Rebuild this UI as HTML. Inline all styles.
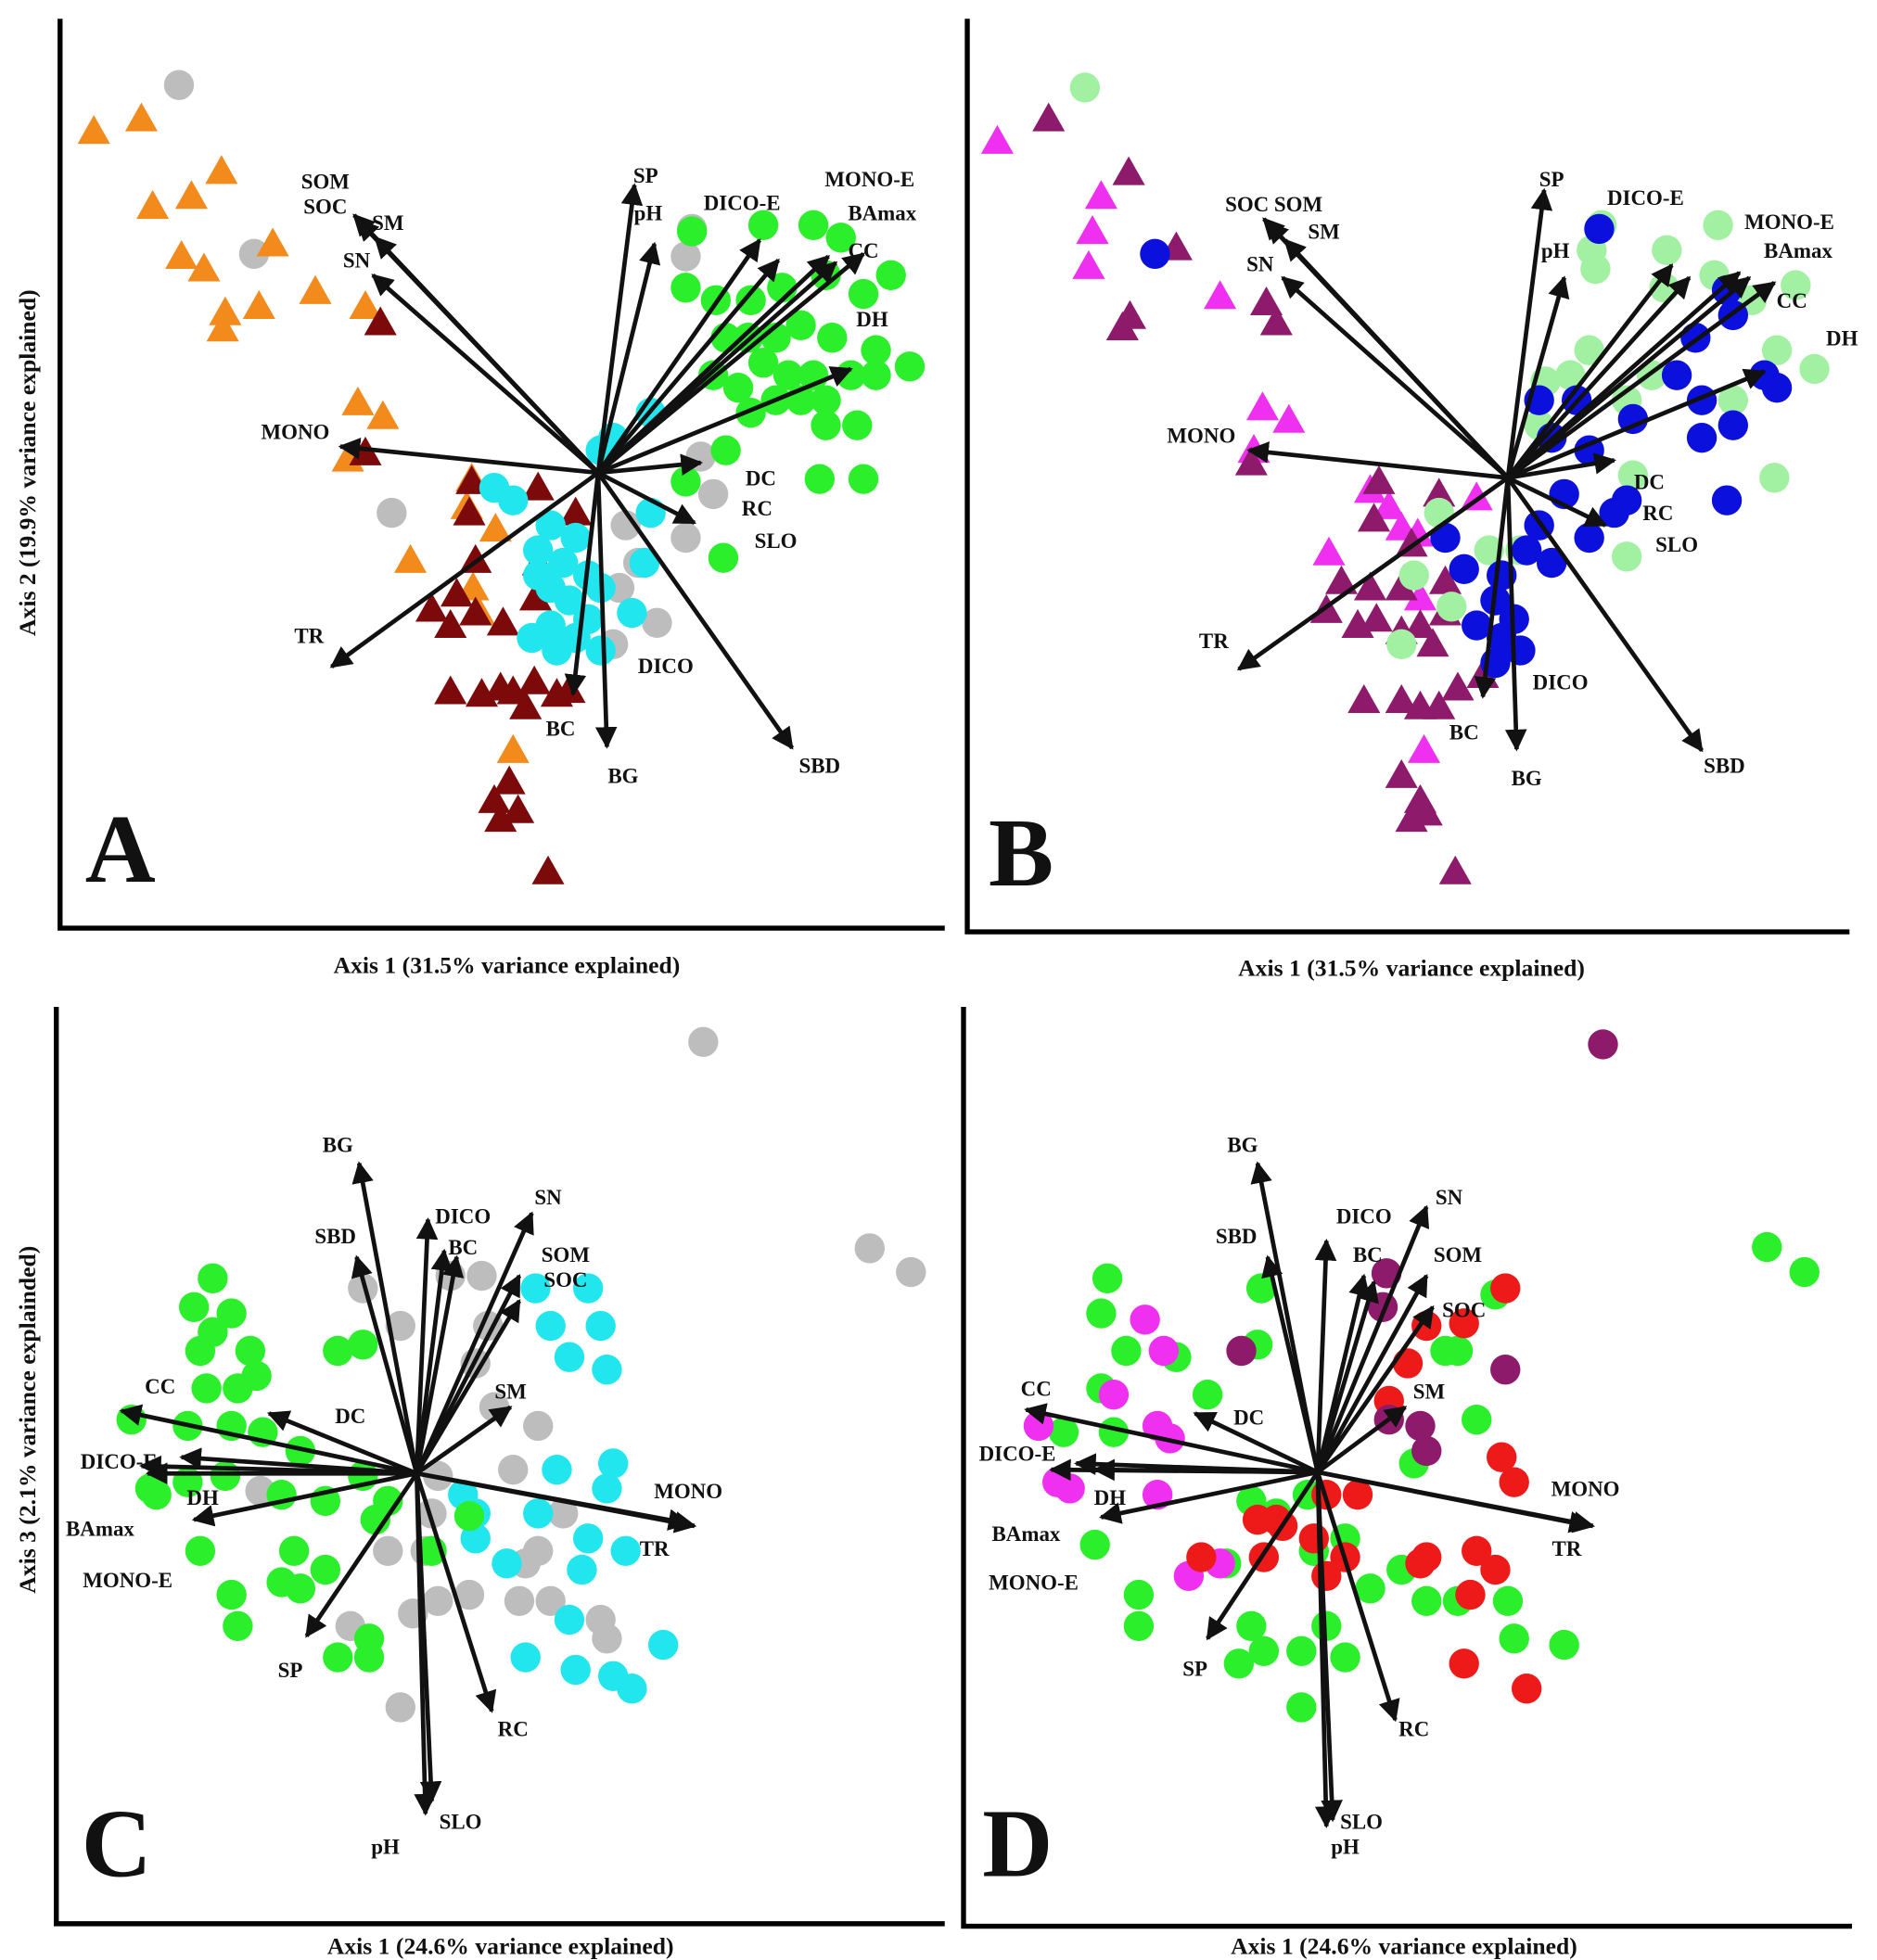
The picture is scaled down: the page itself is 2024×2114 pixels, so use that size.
<!DOCTYPE html>
<html><head><meta charset="utf-8"><style>
html,body{margin:0;padding:0;background:#fff;}
svg{display:block;}
text{font-family:"Liberation Serif",serif;font-weight:bold;fill:#111;}
</style></head><body>
<svg id="fig" width="2024" height="2114" viewBox="0 0 1500 1567" preserveAspectRatio="none" xmlns="http://www.w3.org/2000/svg">
<defs><marker id="ah" viewBox="0 0 10 10" refX="9" refY="5" markerWidth="5" markerHeight="5" orient="auto"><path d="M0,0 L10,5 L0,10 z" fill="#111"/></marker></defs>
<g stroke="#000" stroke-width="4" fill="none"><path d="M48,15 L48,742 L755,742"/></g>
<g stroke="#000" stroke-width="4" fill="none"><path d="M773,15 L773,745 L1478,745"/></g>
<g stroke="#000" stroke-width="4" fill="none"><path d="M45,805 L45,1538 L755,1538"/></g>
<g stroke="#000" stroke-width="4" fill="none"><path d="M770,805 L770,1540 L1480,1540"/></g>
<text x="405" y="778" font-size="19" text-anchor="middle">Axis 1 (31.5% variance explained)</text>
<text x="1128" y="780" font-size="19" text-anchor="middle">Axis 1 (31.5% variance explained)</text>
<text x="400" y="1562" font-size="19" text-anchor="middle">Axis 1 (24.6% variance explained)</text>
<text x="1122" y="1562" font-size="19" text-anchor="middle">Axis 1 (24.6% variance explained)</text>
<text transform="translate(28,370) rotate(-90)" font-size="19" text-anchor="middle">Axis 2 (19.9% variance explained)</text>
<text transform="translate(28,1135) rotate(-90)" font-size="19" text-anchor="middle">Axis 3 (2.1% variance explainded)</text>
<g id="marks"></g>
<text x="68" y="705" font-size="78">A</text>
<text x="790" y="708" font-size="78">B</text>
<text x="65" y="1500" font-size="78">C</text>
<text x="785" y="1500" font-size="78">D</text>
</svg>
<script>
// ---- data: site scores (plot units) ----
const aGrayX=[143,203,313,553,548,560,570,548,525,490,500,510,495];
const aGrayY=[68,203,410,183,205,365,395,430,498,515,420,450,470];
const aOrangeX=[75,113,177,153,122,145,163,218,180,207,178,252,292,286,306,278,377,373,396,328,378,383,410];
const aOrangeY=[105,95,137,157,165,205,215,195,250,245,263,233,245,322,333,367,383,405,423,448,470,490,600];
const aDarkRedX=[304,292,377,430,375,460,380,430,365,345,380,360,402,428,360,385,400,410,427,420,445,455,407,395,400,414,438];
const aDarkRedY=[258,362,385,390,410,410,448,450,475,487,490,500,498,478,553,555,550,553,545,565,555,552,625,640,655,648,697];
const aCyanX=[395,410,480,490,520,440,460,430,450,470,480,440,455,470,440,425,460,480,505,520,515,430,445];
const aCyanY=[390,400,360,350,330,420,430,440,450,460,470,470,480,495,500,510,510,520,490,410,450,460,520];
const aGreenX=[553,610,650,672,712,548,572,600,625,660,690,640,665,700,727,610,630,650,680,700,620,640,660,685,600,580,570,590,548,580,655,690,578,660,620,598];
const aGreenY=[185,180,180,190,220,230,240,240,230,220,235,260,270,280,293,290,300,300,300,300,320,320,320,340,330,270,300,310,385,360,383,383,446,340,270,270];

const bMagentaX=[797,880,873,870,975,1009,1030,1002,1110,1120,1133,1135,1180,1138,1095,1062];
const bMagentaY=[113,157,185,213,237,326,336,360,405,422,427,478,398,600,392,442];
const bPurpleX=[838,902,940,903,897,1020,1012,1000,1102,1150,1098,1128,1072,1095,1120,1155,1085,1060,1100,1135,1120,1145,1155,1090,1120,1135,1150,1165,1120,1135,1128,1140,1163,1185];
const bPurpleY=[95,138,198,253,262,258,242,370,385,395,415,435,465,470,470,465,500,488,495,500,505,515,490,560,560,565,565,550,620,640,655,650,697,540];
const bLightX=[867,1280,1272,1275,1332,1373,1330,1435,1370,1400,1450,1420,1385,1418,1305,1300,1150,1130,1195,1215,1190,1160,1120,1235,1270,1300,1320,1255,1230];
const bLightY=[70,180,200,215,200,180,230,228,220,240,295,280,320,382,380,445,410,460,480,440,440,485,515,305,280,320,300,300,340];
const bBlueX=[923,1278,1380,1385,1355,1340,1360,1410,1420,1385,1360,1305,1270,1250,1270,1300,1380,1230,1220,1240,1200,1195,1210,1180,1200,1215,1195,1240,1260,1230,1290,1155,1170];
const bBlueY=[203,183,232,252,270,300,320,300,310,340,350,335,360,395,430,400,400,420,440,450,460,480,495,500,510,520,530,350,320,320,410,430,455];

const cGrayX=[562,695,728,290,360,385,320,390,380,430,395,410,350,340,350,375,420,450,415,440,430,280,320,485,480,208,330,345,310];
const cGrayY=[833,998,1017,1030,1020,1020,1060,1060,1090,1140,1125,1175,1180,1240,1280,1275,1250,1210,1280,1280,1240,1300,1365,1310,1295,1192,1290,1210,1240];
const cCyanX=[428,470,480,440,455,485,490,485,445,370,380,430,470,465,500,455,460,490,505,530,405,420,380];
const cCyanY=[1030,1030,1060,1060,1085,1095,1170,1190,1175,1195,1210,1210,1230,1255,1240,1295,1335,1340,1350,1315,1250,1325,1230];
const cGreenX=[170,155,185,170,200,160,205,190,165,270,290,105,150,185,210,240,120,125,150,180,225,160,235,260,240,225,185,190,270,295,295,345,375,290,310,300,260];
const cGreenY=[1022,1045,1050,1065,1080,1080,1100,1110,1110,1080,1075,1135,1140,1140,1145,1160,1190,1195,1185,1180,1195,1240,1240,1255,1270,1265,1275,1300,1325,1310,1325,1240,1212,1180,1200,1215,1200];

const dPurpleX=[1281,992,1108,1105,1203,1135,1110,1140];
const dPurpleY=[835,1080,1018,1045,1095,1140,1135,1160];
const dGreenX=[1412,1442,885,1008,880,900,880,940,1005,965,850,890,1165,1155,1195,1180,1130,1000,1020,1050,1075,1095,1120,1165,1140,1205,1210,1250,1060,1040,1000,1010,990,1075,1040,875,910,910,1045,980];
const dGreenY=[997,1017,1022,1030,1050,1080,1110,1085,1075,1115,1145,1145,1080,1080,1035,1135,1170,1200,1210,1240,1230,1270,1255,1280,1280,1280,1310,1315,1300,1320,1300,1320,1330,1325,1365,1235,1275,1300,1195,1250];
const dMagentaX=[915,930,890,925,935,830,845,855,925,950,975];
const dMagentaY=[1055,1080,1115,1140,1150,1140,1185,1190,1195,1260,1250];
const dRedX=[1203,1140,1170,1125,1110,1200,1210,1085,1020,1005,1010,1025,1050,1075,1060,1135,1140,1180,1195,1175,1170,1220,960,1060];
const dRedY=[1030,1060,1058,1090,1120,1165,1185,1195,1215,1215,1245,1220,1230,1245,1260,1250,1245,1240,1255,1275,1330,1350,1245,1195];

// ---- biplot loadings (arrow tips) and variable labels ----
const aOrigin=[478,378];
const aArrowX=[507,523,607,622,662,668,690,680,560,555,633,485,458,265,272,283,286,300,298];
const aArrowY=[148,195,192,208,205,210,203,295,370,418,598,597,555,533,357,172,176,190,220];
const aLabels=["SP","DICO-E","MONO-E","BAmax","CC","DH","pH","DC","RC","SLO","DICO","SBD","BG","BC","TR","MONO","SOM","SOC","SM","SN"];
const aLabelX=[516,593,695,705,690,697,518,608,605,620,532,655,498,448,247,236,260,260,310,285];
const aLabelY=[146,168,149,176,206,261,176,388,412,438,538,618,626,588,514,351,151,171,184,214];

const bOrigin=[1205,382];
const bArrowX=[1234,1250,1336,1350,1390,1398,1418,1410,1290,1283,1360,1212,1185,990,998,1010,1013,1027,1025];
const bArrowY=[152,222,212,222,218,222,226,297,368,420,600,599,557,535,360,175,178,192,222];
const bLabels=["SP","DICO-E","MONO-E","BAmax","CC","DH","pH","DC","RC","SLO","DICO","SBD","BG","BC","TR","MONO","SOC SOM","SM","SN"];
const bLabelX=[1240,1315,1430,1437,1432,1472,1243,1318,1325,1340,1247,1378,1220,1170,970,960,1018,1058,1007];
const bLabelY=[149,164,183,206,246,276,206,391,416,441,551,618,628,591,518,354,169,191,217];

const cOrigin=[333,1178];
const cArrowX=[287,285,342,355,365,425,415,415,408,215,97,113,145,118,155,245,393,345,340,555,550];
const cArrowY=[930,1005,975,1000,1005,970,1020,1040,1125,1130,1128,1172,1165,1178,1215,1308,1368,1440,1450,1220,1218];
const cLabels=["BG","SBD","DICO","BC","SN","SOM","SOC","SM","DC","CC","DICO-E","DH","BAmax","MONO-E","SP","RC","SLO","pH","MONO","TR"];
const cLabelX=[270,268,370,370,438,452,452,408,280,128,95,162,80,102,232,410,368,308,550,523];
const cLabelY=[921,994,978,1003,963,1009,1029,1118,1138,1114,1174,1203,1228,1269,1341,1388,1462,1482,1198,1244];

const dOrigin=[1053,1177];
const dArrowX=[1005,1013,1060,1090,1098,1140,1140,1145,1123,955,820,840,860,875,880,965,1115,1065,1060,1270,1273];
const dArrowY=[930,1005,992,1020,1025,965,1020,1045,1125,1130,1127,1175,1170,1175,1213,1310,1375,1455,1460,1220,1220];
const dLabels=["BG","SBD","DICO","BC","SN","SOM","SOC","SM","DC","CC","DICO-E","DH","BAmax","MONO-E","SP","RC","SLO","pH","MONO","TR"];
const dLabelX=[993,988,1090,1093,1158,1165,1170,1142,998,828,813,887,820,826,955,1130,1088,1075,1267,1252];
const dLabelY=[921,994,978,1009,963,1009,1053,1118,1139,1116,1168,1203,1232,1271,1340,1388,1462,1482,1196,1244];

// ---- scales (plot units -> svg viewBox units) ----
const sx=v=>v*1.0;
const sy=v=>v*1.0;
const NS="http://www.w3.org/2000/svg";
const root=document.getElementById('marks');

function circles(xs,ys,color,name){
  const g=document.createElementNS(NS,'g');
  
  
  for(let i=0;i<xs.length;i++){
    const c=document.createElementNS(NS,'circle');
    c.setAttribute('cx',sx(xs[i]));c.setAttribute('cy',sy(ys[i]));c.setAttribute('r',12);c.setAttribute('fill',color);
    
    
    g.appendChild(c);
  }
  root.appendChild(g);
}
function triangles(xs,ys,color,name){
  const g=document.createElementNS(NS,'g');
  
  
  for(let i=0;i<xs.length;i++){
    const x=sx(xs[i]),y=sy(ys[i]);
    const p=document.createElementNS(NS,'polygon');
    p.setAttribute('points',`${x},${y-13} ${x-13},${y+10} ${x+13},${y+10}`);p.setAttribute('fill',color);
    
    
    g.appendChild(p);
  }
  root.appendChild(g);
}
function biplot(o,ax,ay,labels,lx,ly,name){
  const g=document.createElementNS(NS,'g');
  
  
  for(let i=0;i<ax.length;i++){
    const l=document.createElementNS(NS,'line');
    l.setAttribute('x1',sx(o[0]));l.setAttribute('y1',sy(o[1]));l.setAttribute('x2',sx(ax[i]));l.setAttribute('y2',sy(ay[i]));
    l.setAttribute('stroke','#111');l.setAttribute('stroke-width','3.5');l.setAttribute('marker-end','url(#ah)');
    
    
    g.appendChild(l);
  }
  for(let i=0;i<labels.length;i++){
    const t=document.createElementNS(NS,'text');
    t.setAttribute('x',sx(lx[i]));t.setAttribute('y',sy(ly[i]));t.setAttribute('font-size','17');t.setAttribute('text-anchor','middle');
    t.textContent=labels[i];
    
    
    g.appendChild(t);
  }
  root.appendChild(g);
}
// panel A
circles(aGrayX,aGrayY,'#bdbdbd','panel-a-gray-sites');
triangles(aOrangeX,aOrangeY,'#f28a1c','panel-a-orange-sites');
triangles(aDarkRedX,aDarkRedY,'#7d0a0a','panel-a-darkred-sites');
circles(aCyanX,aCyanY,'#22e6ee','panel-a-cyan-sites');
circles(aGreenX,aGreenY,'#2bef2b','panel-a-green-sites');
biplot(aOrigin,aArrowX,aArrowY,aLabels,aLabelX,aLabelY,'panel-a-biplot');
// panel B
triangles(bMagentaX,bMagentaY,'#f030f0','panel-b-magenta-sites');
triangles(bPurpleX,bPurpleY,'#8e1a6c','panel-b-purple-sites');
circles(bLightX,bLightY,'#a2f0a2','panel-b-lightgreen-sites');
circles(bBlueX,bBlueY,'#0c10dc','panel-b-blue-sites');
biplot(bOrigin,bArrowX,bArrowY,bLabels,bLabelX,bLabelY,'panel-b-biplot');
// panel C
circles(cGrayX,cGrayY,'#bdbdbd','panel-c-gray-sites');
circles(cCyanX,cCyanY,'#22e6ee','panel-c-cyan-sites');
circles(cGreenX,cGreenY,'#2bef2b','panel-c-green-sites');
biplot(cOrigin,cArrowX,cArrowY,cLabels,cLabelX,cLabelY,'panel-c-biplot');
// panel D
circles(dGreenX,dGreenY,'#2bef2b','panel-d-green-sites');
circles(dMagentaX,dMagentaY,'#f030f0','panel-d-magenta-sites');
circles(dRedX,dRedY,'#ee1a1a','panel-d-red-sites');
circles(dPurpleX,dPurpleY,'#8e1a6c','panel-d-purple-sites');
biplot(dOrigin,dArrowX,dArrowY,dLabels,dLabelX,dLabelY,'panel-d-biplot');
</script>
</body></html>
